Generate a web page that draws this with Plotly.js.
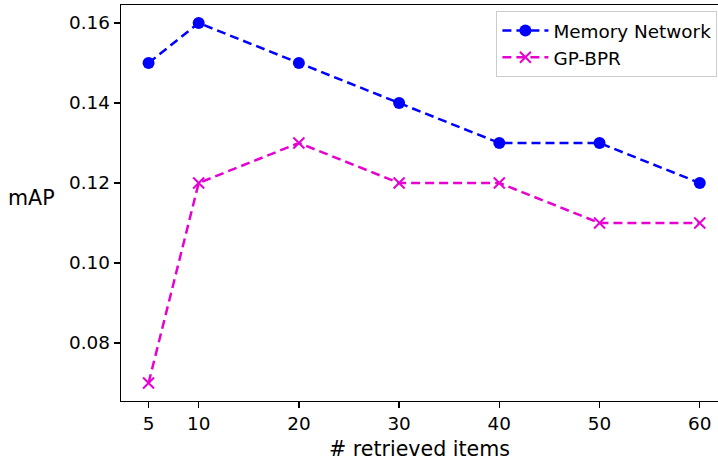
<!DOCTYPE html>
<html>
<head>
<meta charset="utf-8">
<script src="https://cdn.plot.ly/plotly-3.0.1.min.js"></script>
<style>html,body{margin:0;padding:0;background:#fff;}#chart{width:718px;height:461px;}</style>
</head>
<body>
<div id="chart"></div>
<script>
var retrieved = [5, 10, 20, 30, 40, 50, 60];
var memoryNetwork = [0.15, 0.16, 0.15, 0.14, 0.13, 0.13, 0.12];
var gpBpr = [0.07, 0.12, 0.13, 0.12, 0.12, 0.11, 0.11];
var xTicks = [5, 10, 20, 30, 40, 50, 60];
var yTicks = [0.08, 0.10, 0.12, 0.14, 0.16];
var yTickText = ["0.08", "0.10", "0.12", "0.14", "0.16"];

var font = "DejaVu Sans, sans-serif";
var traces = [
  {
    x: retrieved, y: memoryNetwork, name: "Memory Network",
    type: "scatter", mode: "lines+markers",
    line: {color: "#0000ff", width: 2.5, dash: "9px,5px"},
    marker: {color: "#0000ff", size: 12, symbol: "circle"}
  },
  {
    x: retrieved, y: gpBpr, name: "GP-BPR",
    type: "scatter", mode: "lines+markers",
    line: {color: "#e600d2", width: 2.5, dash: "9px,5px"},
    marker: {symbol: "x-thin", size: 11, line: {color: "#e600d2", width: 2}, color: "#e600d2"}
  }
];

var layout = {
  width: 718, height: 461,
  margin: {l: 120.5, r: 0, t: 5, b: 60},
  paper_bgcolor: "#fff", plot_bgcolor: "#fff",
  showlegend: true,
  font: {family: font, size: 18.4, color: "#000"},
  xaxis: {
    range: [2.25, 61.82],
    tickvals: xTicks, ticktext: xTicks.map(String),
    showgrid: false, zeroline: false,
    showline: true, linecolor: "#000", linewidth: 1.3, mirror: true,
    ticks: "outside", ticklen: 6, tickwidth: 1.3, tickcolor: "#000",
    tickfont: {family: font, size: 18.4},
    title: {text: "# retrieved items", font: {family: font, size: 20.6}, standoff: 9}
  },
  yaxis: {
    range: [0.0655, 0.1645],
    tickvals: yTicks, ticktext: yTickText,
    showgrid: false, zeroline: false,
    showline: true, linecolor: "#000", linewidth: 1.3,
    ticks: "outside", ticklen: 6, tickwidth: 1.3, tickcolor: "#000",
    tickfont: {family: font, size: 18.4}
  },
  annotations: [{
    text: "mAP", xref: "paper", yref: "paper", x: -0.192, y: 0.512,
    xanchor: "left", yanchor: "middle", showarrow: false,
    font: {family: font, size: 20.6, color: "#000"}
  }],
  legend: {
    x: 0.999, y: 0.985, xanchor: "right", yanchor: "top",
    itemwidth: 46,
    bgcolor: "rgba(255,255,255,0.8)", bordercolor: "#ccc", borderwidth: 1,
    font: {family: font, size: 18.4}
  }
};

Plotly.newPlot("chart", traces, layout, {displayModeBar: false, staticPlot: true});
</script>
</body>
</html>
